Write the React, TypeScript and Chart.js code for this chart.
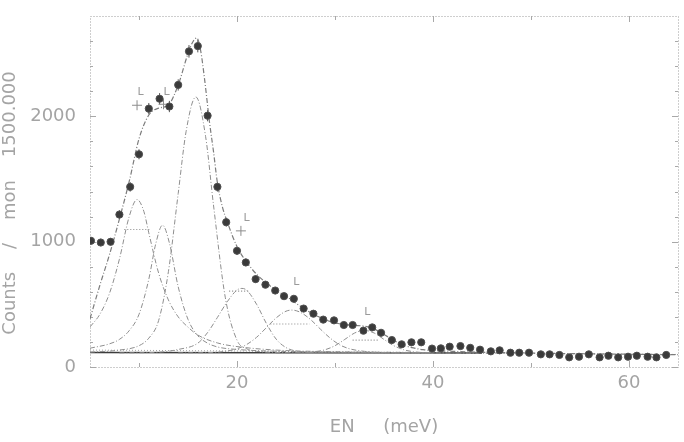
import React, { useEffect, useRef } from 'react';
import { Chart, registerables } from 'chart.js';

Chart.register(...registerables);

// measured points (EN in meV, counts / mon 1500.000)
const dataX = [5.1, 6.1, 7.1, 8.0, 9.1, 10.0, 11.0, 12.1, 13.1, 14.0,
  15.1, 16.0, 17.0, 18.0, 18.9, 20.0, 20.9, 21.9, 22.9, 23.9,
  24.8, 25.8, 26.8, 27.8, 28.8, 29.9, 30.9, 31.8, 32.9, 33.8,
  34.7, 35.8, 36.8, 37.8, 38.8, 39.9, 40.8, 41.7, 42.8, 43.8,
  44.8, 45.9, 46.8, 47.9, 48.8, 49.8, 51.0, 51.9, 52.9, 53.9,
  54.9, 55.9, 57.0, 57.9, 58.9, 59.9, 60.8, 61.9, 62.8, 63.8];
const dataY = [1007, 993, 999, 1216, 1437, 1697, 2061, 2140, 2078, 2250,
  2518, 2560, 2005, 1437, 1155, 927, 834, 701, 657, 610,
  565, 544, 466, 425, 378, 372, 335, 335, 290, 316,
  273, 215, 181, 197, 197, 147, 149, 162, 167, 153,
  138, 125, 133, 114, 114, 114, 101, 101, 96, 77,
  82, 101, 77, 90, 77, 82, 90, 82, 77, 96];
const dataErr = [30, 30, 30, 35, 38, 40, 45, 45, 45, 45,
  50, 50, 45, 38, 35, 30, 30, 28, 28, 26,
  25, 25, 24, 22, 22, 22, 20, 20, 20, 20,
  18, 18, 16, 16, 16, 15, 15, 15, 15, 15,
  14, 14, 14, 13, 13, 13, 12, 12, 12, 12,
  12, 12, 12, 12, 12, 12, 12, 12, 12, 12];

// total fit
const fitX = [5, 6, 7, 8, 9, 10, 11, 12, 13, 14, 15, 15.5, 15.9, 16.3, 16.7, 17.2, 17.6, 18, 18.5, 19,
  20, 21, 22, 23, 24, 25, 26, 27, 28, 29, 30, 31, 32, 33, 34, 35, 36, 37, 38, 39, 40,
  42, 45, 50, 55, 60, 65];
const fitY = [385, 650, 900, 1180, 1480, 1820, 2010, 2065, 2090, 2250, 2500, 2595, 2625, 2520, 2290, 1950, 1720, 1470, 1280, 1160,
  960, 835, 740, 670, 612, 565, 510, 457, 413, 378, 352, 338, 332, 325, 303, 260, 212, 174, 152, 138, 131,
  125, 118, 111, 106, 102, 98];

// fit components
const p1X = [5, 6, 7, 8, 9, 9.8, 10.5, 11, 12, 13, 14, 15, 16, 18, 20, 24, 30, 40];
const p1Y = [320, 420, 590, 860, 1200, 1336, 1240, 1070, 750, 535, 400, 318, 255, 192, 163, 135, 122, 115];
const p2X = [5, 7, 8, 9, 10, 11, 11.7, 12.4, 13.1, 14, 15, 16, 17, 18, 20, 25, 30, 40];
const p2Y = [150, 185, 220, 290, 420, 700, 980, 1131, 990, 640, 380, 250, 190, 160, 140, 124, 118, 113];
const p3X = [5, 8, 10, 11, 12, 13, 14, 14.8, 15.8, 16.8, 17.6, 18.8, 20, 21, 22, 25, 30, 40];
const p3Y = [118, 135, 170, 230, 370, 760, 1384, 1876, 2154, 1837, 1293, 557, 214, 145, 125, 115, 112, 110];
const p4X = [8, 12, 14, 16, 17, 18, 19, 20, 20.5, 21, 22, 23, 24, 25, 26, 28, 30, 35];
const p4Y = [112, 118, 140, 190, 275, 395, 520, 614, 627, 612, 500, 347, 222, 155, 128, 115, 112, 110];
const p5X = [14, 18, 19, 20, 21, 22, 23, 24, 25, 25.6, 26.5, 27.5, 28.5, 29.5, 30.5, 31.5, 33, 35, 40];
const p5Y = [112, 118, 128, 145, 180, 237, 314, 392, 445, 454, 435, 379, 303, 231, 176, 145, 125, 115, 111];
const p6X = [24, 27, 28, 29, 30, 31, 32, 33, 34, 35, 36, 37, 38, 39, 42, 48];
const p6Y = [110, 115, 122, 138, 170, 220, 271, 292, 271, 220, 170, 138, 122, 115, 111, 110];

// background lines
const bgX = [5, 20, 35, 50, 65];
const bgY = [135, 128, 118, 108, 100];
const flatX = [5, 45];
const flatY = [116, 112];

// short dotted level marks
const segX1 = [8.5, 19.2, 23.4, 31.8];
const segX2 = [11.2, 21.2, 27.4, 34.5];
const segY = [1097, 605, 343, 215];

// annotation marks
const crossX = [9.8, 12.5, 20.4];
const crossY = [2088, 2096, 1086];
const labelX = [10.15, 12.8, 20.98, 26.06, 33.3];
const labelY = [2190, 2190, 1187, 680, 440];
const labelText = ['L', 'L', 'L', 'L', 'L'];

// axes
const xTicks = [20, 40, 60];
const yTicks = [0, 1000, 2000];
const xMinor = [10, 30, 50];
const yMinor = [200, 400, 600, 800, 1200, 1400, 1600, 1800, 2200, 2400, 2600];

const FONT = 'DejaVu Sans';
const TXT = '#a4a4a4';

const pts = (xs: number[], ys: number[]) => xs.map((x, i) => ({ x, y: ys[i] }));

const framePlugin = {
  id: 'frame',
  beforeDatasetsDraw(chart: any) {
    const { ctx, chartArea: a, scales } = chart;
    const x = scales.x;
    const y = scales.y;
    const line = (x1: number, y1: number, x2: number, y2: number) => {
      ctx.beginPath();
      ctx.moveTo(x1, y1);
      ctx.lineTo(x2, y2);
      ctx.stroke();
    };
    ctx.save();
    ctx.strokeStyle = '#9c9c9c';
    ctx.lineWidth = 1;
    ctx.setLineDash([1, 2]);
    ctx.strokeRect(Math.round(a.left) + 0.5, Math.round(a.top) + 0.5, a.right - a.left, a.bottom - a.top);
    ctx.setLineDash([]);
    ctx.strokeStyle = '#a8a8a8';
    xTicks.forEach((v) => {
      const px = Math.round(x.getPixelForValue(v)) + 0.5;
      line(px, a.bottom, px, a.bottom - 6);
      line(px, a.top, px, a.top + 6);
    });
    xMinor.forEach((v) => {
      const px = Math.round(x.getPixelForValue(v)) + 0.5;
      line(px, a.bottom, px, a.bottom - 4);
      line(px, a.top, px, a.top + 4);
    });
    yTicks.forEach((v) => {
      const py = Math.round(y.getPixelForValue(v)) + 0.5;
      line(a.left, py, a.left + 6, py);
      line(a.right, py, a.right - 6, py);
    });
    yMinor.forEach((v) => {
      const py = Math.round(y.getPixelForValue(v)) + 0.5;
      line(a.left, py, a.left + 3, py);
      line(a.right, py, a.right - 3, py);
    });
    // error bars
    ctx.strokeStyle = '#555';
    ctx.lineWidth = 1;
    dataX.forEach((v, i) => {
      const px = x.getPixelForValue(v);
      line(px, y.getPixelForValue(dataY[i] - dataErr[i]), px, y.getPixelForValue(dataY[i] + dataErr[i]));
    });
    ctx.restore();
  },
  afterDatasetsDraw(chart: any) {
    const { ctx, scales } = chart;
    ctx.save();
    ctx.fillStyle = '#9a9a9a';
    ctx.font = `11px "${FONT}"`;
    ctx.textAlign = 'center';
    ctx.textBaseline = 'middle';
    labelX.forEach((v, i) => {
      ctx.fillText(labelText[i], scales.x.getPixelForValue(v), scales.y.getPixelForValue(labelY[i]));
    });
    ctx.restore();
  },
};

const curve = (label: string, xs: number[], ys: number[], color: string, width: number, dash: number[]) => ({
  type: 'line' as const,
  label,
  data: pts(xs, ys),
  borderColor: color,
  borderWidth: width,
  borderDash: dash,
  pointRadius: 0,
  fill: false,
  cubicInterpolationMode: 'monotone' as const,
});

export default function App() {
  const ref = useRef<HTMLCanvasElement | null>(null);

  useEffect(() => {
    if (!ref.current) return;
    const compDash = [5, 2, 1, 2];
    const datasets: any[] = [
      {
        type: 'scatter',
        label: 'data',
        data: pts(dataX, dataY),
        pointRadius: 3.6,
        backgroundColor: '#3a3a3a',
        borderColor: '#505050',
        borderWidth: 1,
        showLine: false,
      },
      {
        type: 'scatter',
        label: 'marks',
        data: pts(crossX, crossY),
        pointStyle: 'cross',
        pointRadius: 5,
        borderColor: '#8c8c8c',
        borderWidth: 1,
        showLine: false,
      },
      curve('fit', fitX, fitY, '#7c7c7c', 1.2, [5, 2, 1, 2]),
      curve('p1', p1X, p1Y, '#8e8e8e', 1, compDash),
      curve('p2', p2X, p2Y, '#8e8e8e', 1, compDash),
      curve('p3', p3X, p3Y, '#8e8e8e', 1, compDash),
      curve('p4', p4X, p4Y, '#8e8e8e', 1, compDash),
      curve('p5', p5X, p5Y, '#8e8e8e', 1, compDash),
      curve('p6', p6X, p6Y, '#8e8e8e', 1, compDash),
      {
        type: 'line',
        label: 'flat',
        data: pts(flatX, flatY),
        borderColor: '#3c3c3c',
        borderWidth: 1.6,
        pointRadius: 0,
        tension: 0,
      },
      {
        type: 'line',
        label: 'background',
        data: pts(bgX, bgY),
        borderColor: '#a0a0a0',
        borderWidth: 1,
        borderDash: [1, 2],
        pointRadius: 0,
        tension: 0,
      },
      ...segY.map((v, i) => ({
        type: 'line',
        label: 'seg' + i,
        data: [{ x: segX1[i], y: v }, { x: segX2[i], y: v }],
        borderColor: '#8a8a8a',
        borderWidth: 1.2,
        borderDash: [1, 2],
        pointRadius: 0,
      })),
    ];

    const chart = new Chart(ref.current, {
      type: 'line',
      data: { datasets },
      plugins: [framePlugin],
      options: {
        responsive: false,
        maintainAspectRatio: false,
        animation: false,
        layout: { padding: { left: 0, right: 4, top: 16, bottom: 0 } },
        plugins: { legend: { display: false }, tooltip: { enabled: false } },
        scales: {
          x: {
            type: 'linear',
            min: 5,
            max: 65,
            afterBuildTicks: (s: any) => {
              s.ticks = xTicks.map((v) => ({ value: v }));
            },
            afterFit: (s: any) => {
              s.height = 75;
              s.paddingLeft = 0;
              s.paddingRight = 0;
              s.paddingTop = 0;
              s.paddingBottom = 0;
            },
            grid: { display: false, drawTicks: false },
            border: { display: false },
            ticks: {
              padding: 6,
              autoSkip: false,
              maxRotation: 0,
              color: TXT,
              font: { family: FONT, size: 18 },
              callback: (v: any) => String(v),
            },
            title: {
              display: true,
              text: 'EN     (meV)',
              color: TXT,
              font: { family: FONT, size: 18 },
              padding: { top: 0, bottom: 4 },
            },
          },
          y: {
            type: 'linear',
            min: 0,
            max: 2800,
            afterBuildTicks: (s: any) => {
              s.ticks = yTicks.map((v) => ({ value: v }));
            },
            afterFit: (s: any) => {
              s.width = 90;
              s.paddingLeft = 0;
              s.paddingRight = 0;
              s.paddingTop = 0;
              s.paddingBottom = 0;
            },
            grid: { display: false, drawTicks: false },
            border: { display: false },
            ticks: {
              padding: 14,
              color: TXT,
              font: { family: FONT, size: 18 },
              callback: (v: any) => String(v),
            },
            title: {
              display: true,
              text: 'Counts    /    mon    1500.000    ',
              color: TXT,
              font: { family: FONT, size: 18 },
              padding: { top: 0, bottom: 0 },
            },
          },
        },
      },
    });
    return () => chart.destroy();
  }, []);

  return (
    <div style={{ position: 'absolute', left: 0, top: 0, width: 684, height: 442, background: '#fff' }}>
      <canvas ref={ref} width={684} height={442} style={{ display: 'block' }} />
    </div>
  );
}
